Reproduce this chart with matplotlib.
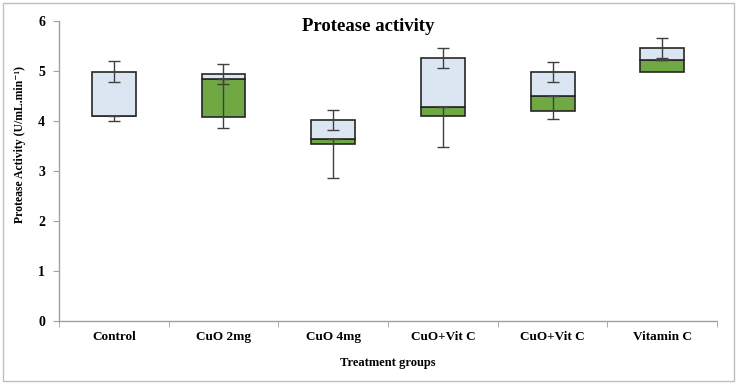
import matplotlib
matplotlib.use('Agg')
import matplotlib.pyplot as plt
import numpy as np
from matplotlib.patches import Rectangle

# box plot built from stacked bars (Excel style)
groups = ['Control', 'CuO 2mg', 'CuO 4mg', 'CuO+Vit C', 'CuO+Vit C', 'Vitamin C']
q1 = [4.10, 4.09, 3.54, 4.11, 4.21, 4.99]
median = [4.10, 4.85, 3.65, 4.29, 4.50, 5.23]
q3 = [4.99, 4.95, 4.03, 5.27, 4.98, 5.47]
low_whisker = [4.00, 3.86, 2.87, 3.48, 4.05, 5.23]
top_err = [0.21, 0.20, 0.20, 0.20, 0.20, 0.20]

serif = ['Liberation Serif', 'DejaVu Serif']
plt.rcParams['font.family'] = serif
plt.rcParams['font.weight'] = 'bold'

q1 = np.array(q1)
median = np.array(median)
q3 = np.array(q3)
low_whisker = np.array(low_whisker)
x = np.arange(len(groups))

fig = plt.figure(figsize=(7.37, 3.84), dpi=100)
ax = fig.add_axes([0.080, 0.164, 0.893, 0.781])

width = 0.40
ax.bar(x, median - q1, width, bottom=q1, color='#70A844',
       edgecolor='#262626', linewidth=1.2, zorder=2)
ax.bar(x, q3 - median, width, bottom=median, color='#DCE6F2',
       edgecolor='#262626', linewidth=1.2, zorder=2)

ax.errorbar(x, q3, yerr=top_err, fmt='none', ecolor='#404040',
            elinewidth=1.0, capsize=4, capthick=1.0, zorder=3)
ax.errorbar(x, median, yerr=[median - low_whisker, np.zeros(len(x))],
            fmt='none', ecolor='#404040', elinewidth=1.0, capsize=4,
            capthick=1.0, zorder=3)

ax.set_xlim(-0.5, len(groups) - 0.5)
ax.set_ylim(0, 6)
ax.set_yticks(range(0, 7))
ax.set_xticks(x)
ax.set_xticklabels(groups, fontsize=9.5, fontweight='bold')
ax.set_xticks(np.arange(-0.5, len(groups), 1.0), minor=True)
ax.tick_params(axis='x', which='major', length=0, pad=7)
ax.tick_params(axis='x', which='minor', length=4, color='#A0A0A0')
ax.tick_params(axis='y', length=4, color='#A0A0A0', labelsize=10, pad=6)
for lbl in ax.get_yticklabels():
    lbl.set_fontweight('bold')

for side in ['top', 'right']:
    ax.spines[side].set_visible(False)
for side in ['left', 'bottom']:
    ax.spines[side].set_color('#A0A0A0')
    ax.spines[side].set_linewidth(1.0)

ax.set_ylabel('Protease Activity (U/mL.min\u207b\u00b9)', fontsize=8.5,
              fontweight='bold')
ax.yaxis.set_label_coords(-0.050, 0.59)
ax.set_xlabel('Treatment groups', fontsize=9, fontweight='bold', labelpad=10)
fig.text(0.50, 0.932, 'Protease activity', ha='center', va='center',
         fontsize=13.5, fontweight='bold')

# chart area border
fig.patches.append(Rectangle((0.004, 0.007), 0.992, 0.985, transform=fig.transFigure,
                             fill=False, edgecolor='#BFBFBF', linewidth=1.0))

fig.savefig('out.png', dpi=100)
plt.close(fig)
